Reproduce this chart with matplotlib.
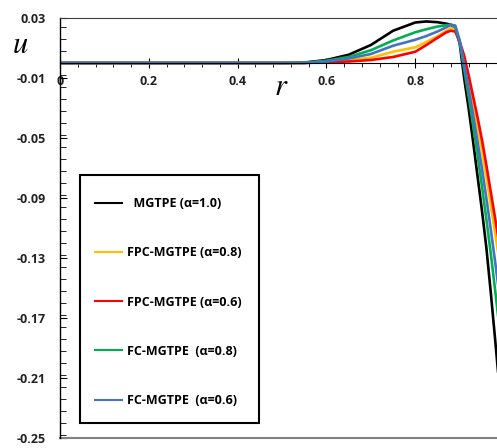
import matplotlib.pyplot as plt
from matplotlib.patches import Rectangle
from matplotlib.ticker import MultipleLocator

r = [0, 0.1, 0.2, 0.3, 0.4, 0.5, 0.55, 0.6, 0.65, 0.7, 0.75, 0.8, 0.825, 0.85,
     0.87, 0.88, 0.89, 0.9, 0.91, 0.92, 0.93, 0.94, 0.95, 0.96, 0.97, 0.98, 0.99, 1.0]

u_mgtpe = [0, 0, 0, 0, 0, 0, 0.0003, 0.002, 0.0055, 0.012, 0.0215, 0.027, 0.0277, 0.0272,
           0.0262, 0.0255, 0.0235, 0.013, -0.01, -0.03, -0.052, -0.075, -0.098, -0.123,
           -0.153, -0.185, -0.218, -0.25]
u_fpc08 = [0, 0, 0, 0, 0, 0, 0, 0.001, 0.002, 0.0035, 0.0075, 0.0105, 0.014, 0.0178,
           0.0215, 0.0232, 0.0228, 0.015, 0.003, -0.011, -0.026, -0.042, -0.058, -0.076,
           -0.095, -0.114, -0.133, -0.152]
u_fpc06 = [0, 0, 0, 0, 0, 0, 0, 0.0005, 0.001, 0.002, 0.004, 0.0075, 0.012, 0.0168,
           0.0205, 0.0215, 0.021, 0.014, 0.005, -0.008, -0.022, -0.036, -0.051, -0.068,
           -0.086, -0.104, -0.122, -0.14]
u_fc08 = [0, 0, 0, 0, 0, 0, 0.0002, 0.0015, 0.004, 0.0085, 0.015, 0.0205, 0.0225, 0.0243,
          0.0252, 0.0255, 0.024, 0.014, -0.004, -0.022, -0.041, -0.061, -0.082, -0.104,
          -0.127, -0.152, -0.178, -0.205]
u_fc06 = [0, 0, 0, 0, 0, 0, 0, 0.001, 0.003, 0.006, 0.0115, 0.0155, 0.018, 0.021,
          0.0238, 0.0255, 0.025, 0.015, -0.001, -0.017, -0.034, -0.052, -0.07, -0.09,
          -0.111, -0.133, -0.156, -0.18]

labels = ["  MGTPE (\u03b1=1.0)", "FPC-MGTPE (\u03b1=0.8)", "FPC-MGTPE (\u03b1=0.6)",
          "FC-MGTPE  (\u03b1=0.8)", "FC-MGTPE  (\u03b1=0.6)"]
colors = ["#000000", "#FFC000", "#FF0000", "#00B050", "#4472C4"]
series = [u_mgtpe, u_fpc08, u_fpc06, u_fc08, u_fc06]

plt.rcParams['font.family'] = ['Open Sans', 'DejaVu Sans']
plt.rcParams['mathtext.fontset'] = 'stix'

fig = plt.figure(figsize=(4.97, 4.48), dpi=100)
ax = fig.add_axes([60 / 497, 10 / 448, 1 - 60 / 497, 420 / 448])

for u, c, lab in zip(series, colors, labels):
    ax.plot(r, u, color=c, lw=1.9, label=lab)

ax.set_xlim(0, 0.984)
ax.set_ylim(-0.25, 0.03)

ax.spines['bottom'].set_position(('data', 0))
ax.spines['right'].set_visible(False)
ax.spines['top'].set_color('#404040')
ax.spines['left'].set_linewidth(1.0)
ax.axhline(-0.25, color='#808080', lw=1.5, clip_on=False)

ax.xaxis.set_minor_locator(MultipleLocator(0.04))
ax.yaxis.set_minor_locator(MultipleLocator(0.008))
ax.set_yticks([0.03 - 0.04 * i for i in range(8)])
ax.set_yticklabels(["0.03", "-0.01", "-0.05", "-0.09", "-0.13", "-0.17", "-0.21", "-0.25"])
ax.set_xticks([0, 0.2, 0.4, 0.6, 0.8])
ax.set_xticklabels(["0", "0.2", "0.4", "0.6", "0.8"])

ax.tick_params(axis='y', which='major', direction='in', length=5, pad=10, labelsize=9)
ax.tick_params(axis='y', which='minor', direction='in', length=4)
ax.tick_params(axis='x', which='major', direction='inout', length=7, pad=5, labelsize=9)
ax.tick_params(axis='x', which='minor', direction='out', length=3)
for t in ax.get_xticklabels() + ax.get_yticklabels():
    t.set_fontweight('bold')
    t.set_color('#222222')

fig.text(20 / 497, 1 - 45 / 448, "$u$", fontsize=22, ha='center', va='center')
fig.text(281 / 497, 1 - 87 / 448, "$r$", fontsize=22, ha='center', va='center')

ax.add_patch(Rectangle((20 / 437, 15 / 420), 179 / 437, 248 / 420, transform=ax.transAxes,
                       fill=True, facecolor='white', edgecolor='black', lw=1.5, zorder=5))
leg = ax.legend(loc='upper left', bbox_to_anchor=(35 / 437, 241 / 420), frameon=False,
                prop={'weight': 'bold', 'size': 9}, labelspacing=2.9, handlelength=2.15,
                handletextpad=0.4, borderpad=0, borderaxespad=0)
leg.set_zorder(6)
for line in leg.get_lines():
    line.set_linewidth(1.5)

fig.savefig("out.png", dpi=100)
